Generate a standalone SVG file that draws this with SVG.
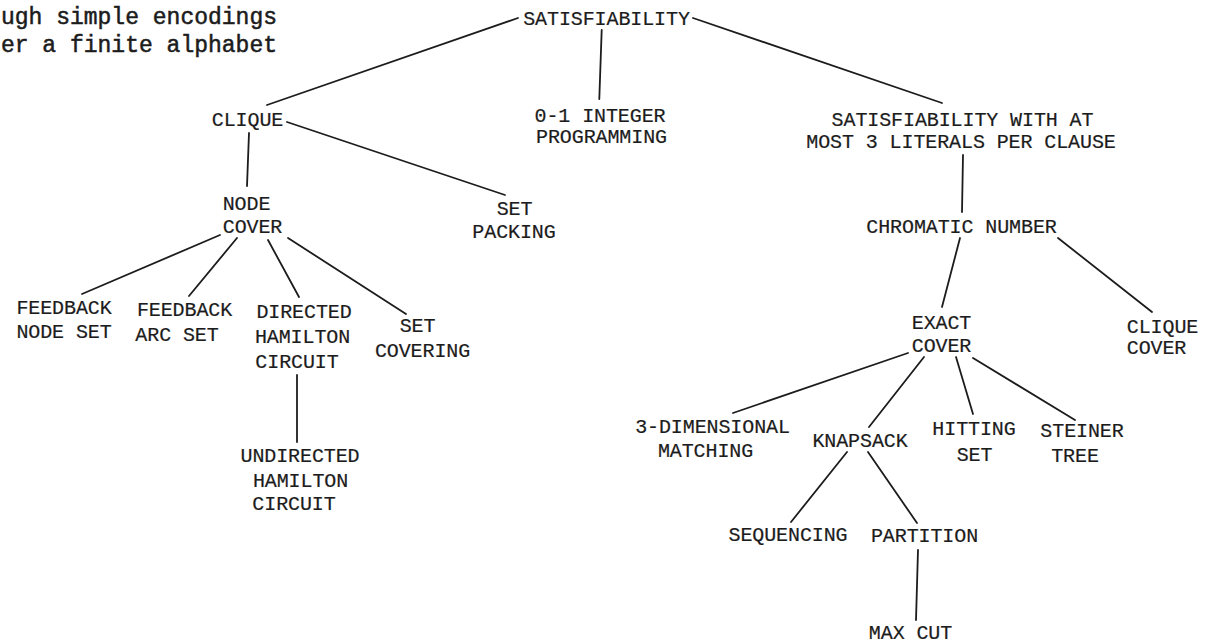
<svg xmlns="http://www.w3.org/2000/svg" width="1209" height="643" viewBox="0 0 1209 643">
<style>
.t{font-family:"Liberation Mono","Courier New",monospace;font-size:20px;letter-spacing:-0.1px;fill:#1c1c1c;stroke:#1c1c1c;stroke-width:0.2;text-anchor:middle}
.h{font-family:"Liberation Mono","Courier New",monospace;font-size:23px;fill:#1c1c1c;stroke:#1c1c1c;stroke-width:0.5;text-anchor:end}
.e line{stroke:#1c1c1c;stroke-width:1.8;stroke-linecap:round}
</style>
<rect width="1209" height="643" fill="#ffffff"/>
<g id="caption">
<text class="h" x="277" y="24">ugh simple encodings</text>
<text class="h" x="277" y="52">er a finite alphabet</text>
</g>
<g id="connectors" class="e">
<line x1="518" y1="18" x2="267" y2="105"/>
<line x1="601.7" y1="30" x2="599.3" y2="99"/>
<line x1="693" y1="18" x2="942" y2="103"/>
<line x1="249" y1="133" x2="247" y2="186"/>
<line x1="287" y1="122" x2="505" y2="195"/>
<line x1="220" y1="235" x2="82" y2="294"/>
<line x1="237" y1="238" x2="189" y2="296"/>
<line x1="268" y1="240" x2="299" y2="297"/>
<line x1="288" y1="238" x2="406" y2="314"/>
<line x1="297" y1="375" x2="297" y2="442"/>
<line x1="963" y1="155" x2="962" y2="212"/>
<line x1="960" y1="238" x2="942" y2="307"/>
<line x1="1058" y1="238" x2="1152" y2="312"/>
<line x1="908" y1="353" x2="733" y2="413"/>
<line x1="924" y1="357" x2="869" y2="427"/>
<line x1="956" y1="357" x2="973" y2="414"/>
<line x1="973" y1="358" x2="1075" y2="420"/>
<line x1="847" y1="452" x2="791" y2="522"/>
<line x1="868" y1="452" x2="917" y2="523"/>
<line x1="918" y1="550" x2="916" y2="620"/>
</g>
<g id="sat"><text class="t" x="606.5" y="25">SATISFIABILITY</text></g>
<g id="ilp"><text class="t" x="600" y="122">0-1 INTEGER</text><text class="t" x="601.5" y="143">PROGRAMMING</text></g>
<g id="clique"><text class="t" x="247.5" y="126">CLIQUE</text></g>
<g id="sat3"><text class="t" x="962.5" y="126">SATISFIABILITY WITH AT</text><text class="t" x="961" y="148">MOST 3 LITERALS PER CLAUSE</text></g>
<g id="nodecover"><text class="t" x="246.5" y="210">NODE</text><text class="t" x="252.5" y="233">COVER</text></g>
<g id="setpacking"><text class="t" x="514.5" y="215">SET</text><text class="t" x="514" y="238">PACKING</text></g>
<g id="fns"><text class="t" x="64" y="314">FEEDBACK</text><text class="t" x="64" y="338">NODE SET</text></g>
<g id="fas"><text class="t" x="184.5" y="316">FEEDBACK</text><text class="t" x="177" y="341">ARC SET</text></g>
<g id="dhc"><text class="t" x="304" y="318">DIRECTED</text><text class="t" x="302.5" y="343">HAMILTON</text><text class="t" x="297" y="368">CIRCUIT</text></g>
<g id="setcovering"><text class="t" x="417.5" y="332">SET</text><text class="t" x="422.5" y="357">COVERING</text></g>
<g id="uhc"><text class="t" x="300" y="462">UNDIRECTED</text><text class="t" x="300.5" y="487">HAMILTON</text><text class="t" x="294" y="510">CIRCUIT</text></g>
<g id="chromatic"><text class="t" x="961.5" y="233">CHROMATIC NUMBER</text></g>
<g id="cliquecover"><text class="t" x="1162.5" y="333">CLIQUE</text><text class="t" x="1156.5" y="354">COVER</text></g>
<g id="exactcover"><text class="t" x="941.5" y="329">EXACT</text><text class="t" x="941.5" y="352">COVER</text></g>
<g id="3dm"><text class="t" x="712.5" y="433">3-DIMENSIONAL</text><text class="t" x="705.5" y="457">MATCHING</text></g>
<g id="knapsack"><text class="t" x="860" y="447">KNAPSACK</text></g>
<g id="hitting"><text class="t" x="974" y="435">HITTING</text><text class="t" x="974.5" y="461">SET</text></g>
<g id="steiner"><text class="t" x="1082" y="437">STEINER</text><text class="t" x="1075" y="462">TREE</text></g>
<g id="sequencing"><text class="t" x="788" y="541">SEQUENCING</text></g>
<g id="partition"><text class="t" x="924.5" y="542">PARTITION</text></g>
<g id="maxcut"><text class="t" x="910.5" y="639">MAX CUT</text></g>
</svg>
